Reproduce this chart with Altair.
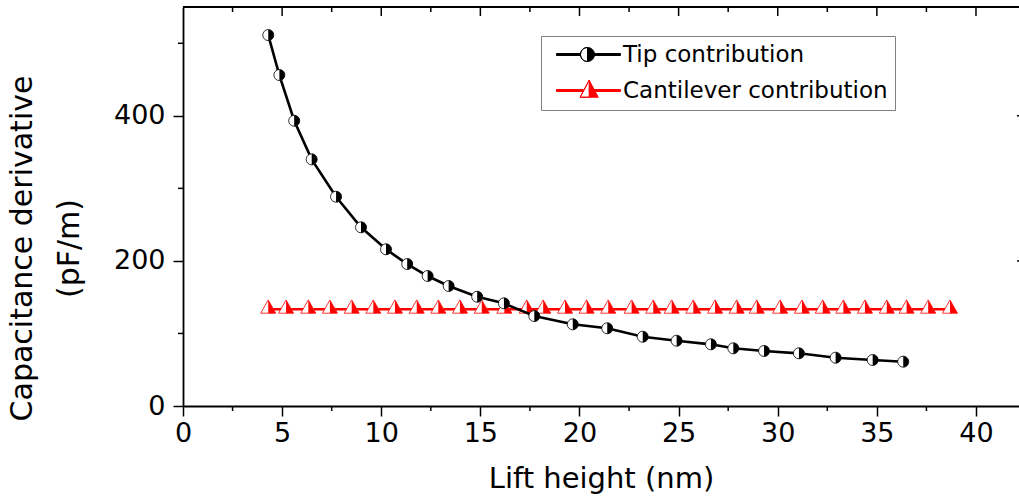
import altair as alt
import pandas as pd

series_names = ["Tip contribution", "Cantilever contribution"]

tip_x = [4.30, 4.86, 5.61, 6.49, 7.72, 8.98, 10.24, 11.31, 12.34, 13.40, 14.84, 16.19,
         17.72, 19.66, 21.40, 23.19, 24.90, 26.63, 27.76, 29.31, 31.07, 32.92, 34.79, 36.33]
tip_y = [511.3, 456.2, 393.2, 340.0, 288.5, 246.3, 216.0, 195.7, 179.2, 165.4, 150.6, 141.5,
         124.0, 112.6, 107.1, 95.5, 90.0, 85.0, 79.5, 75.8, 72.6, 66.6, 63.4, 61.1]

cant_x = [4.30, 5.20, 6.32, 7.41, 8.51, 9.60, 10.69, 11.79, 12.88, 13.97, 15.07, 16.21,
          17.34, 18.17, 19.27, 20.36, 21.45, 22.63, 23.72, 24.65, 25.74, 26.84, 27.93,
          28.94, 30.12, 31.22, 32.27, 33.31, 34.40, 35.50, 36.50, 37.59, 38.69]
cant_y = [133.4, 133.4, 133.4, 133.4, 133.4, 133.4, 133.4, 133.4, 133.4, 133.4, 133.4,
          133.4, 133.4, 133.4, 133.4, 133.4, 133.4, 133.4, 133.4, 133.4, 133.4, 133.4,
          133.4, 133.4, 133.4, 133.4, 133.4, 133.4, 133.4, 133.4, 133.4, 133.4, 133.4]

x_major = [0, 5, 10, 15, 20, 25, 30, 35, 40]
x_minor = [2.5, 7.5, 12.5, 17.5, 22.5, 27.5, 32.5, 37.5]
y_major = [0, 200, 400]
y_minor = [100, 300, 500]
x_domain = [0, 42.17]
y_domain = [0, 550]

FONT = "DejaVu Sans"
W, H = 836, 399

# marker shapes (unit = sqrt(size)/2 px)
CIRCLE_RIGHT = "M0,-1A1,1,0,0,1,0,1Z"
TRI_FULL = "M0,-1.24L1,0.53L-1,0.53Z"
TRI_RIGHT = "M0,-1.24L1,0.53L0,0.53Z"
# legend symbols (unit = 7 px), stub + half-filled marker
TIP_LEG = ("M-0.43,-0.14L3.0,-0.14L3.0,0.14L-0.43,0.14Z "
           "M5.0,-0.14L8.71,-0.14L8.71,0.14L5.0,0.14Z "
           "M4.0,-1A1,1,0,0,0,4.0,1A1,1,0,0,1,4.0,-1 "
           "M4.0,-1A1,1,0,0,1,4.0,1Z")
CANT_LEG = ("M-0.43,-0.14L3.4,-0.14L3.4,0.14L-0.43,0.14Z "
            "M4.24,-0.14L8.71,-0.14L8.71,0.14L4.24,0.14Z "
            "M4.24,-1.47L2.95,0.96L4.24,0.96L2.95,0.96Z "
            "M4.24,-1.47L5.53,0.96L4.24,0.96Z")

tip_df = pd.DataFrame({"x": tip_x, "y": tip_y})
cant_df = pd.DataFrame({"x": cant_x, "y": cant_y})
legend_df = pd.DataFrame({"series": series_names, "x": [tip_x[0], cant_x[0]], "y": [tip_y[0], cant_y[0]]})

xs = alt.Scale(domain=x_domain, nice=False, zero=False)
ys = alt.Scale(domain=y_domain, nice=False, zero=False)

x_axis = alt.Axis(values=x_major, tickSize=10, tickWidth=1.5, domainWidth=1.8, domainColor="black",
                  tickColor="black", labelFontSize=27, labelPadding=4, labelFlush=False,
                  labelOverlap=False, grid=False, format="d", labelColor="black",
                  title="Lift height (nm)", titleFontSize=29, titleFontWeight="normal",
                  titleX=418, titleY=81, titleBaseline="alphabetic", titleAlign="center",
                  titleColor="black")
y_axis = alt.Axis(values=y_major, tickSize=10, tickWidth=1.5, domainWidth=1.8, domainColor="black",
                  tickColor="black", labelFontSize=27, labelPadding=8, labelFlush=False,
                  labelOverlap=False, grid=False, format="d", labelColor="black",
                  title=["Capacitance derivative", "(pF/m)"], titleFontSize=30,
                  titleFontWeight="normal", titleX=-152, titleY=241, titleAngle=-90,
                  titleAlign="center", titleBaseline="alphabetic", titleLineHeight=47,
                  titleColor="black")


def X():
    return alt.X("x:Q", scale=xs, axis=x_axis)


def Y():
    return alt.Y("y:Q", scale=ys, axis=y_axis)


cant_line = alt.Chart(cant_df).mark_line(color="red", strokeWidth=2.5).encode(x=X(), y=Y())
cant_full = alt.Chart(cant_df).mark_point(shape=TRI_FULL, filled=True, fill="white", stroke="red",
                                          strokeWidth=0.8, size=225, opacity=1).encode(x=X(), y=Y())
cant_half = alt.Chart(cant_df).mark_point(shape=TRI_RIGHT, filled=True, color="red", strokeWidth=0,
                                          size=225, opacity=1).encode(x=X(), y=Y())
tip_line = alt.Chart(tip_df).mark_line(color="black", strokeWidth=2.6).encode(x=X(), y=Y())
tip_full = alt.Chart(tip_df).mark_point(shape="circle", filled=True, fill="white", stroke="black",
                                        strokeWidth=0.8, size=121, opacity=1).encode(x=X(), y=Y())
tip_half = alt.Chart(tip_df).mark_point(shape=CIRCLE_RIGHT, filled=True, color="black", strokeWidth=0,
                                        size=121, opacity=1).encode(x=X(), y=Y())

leg = alt.Legend(title=None, orient="none", legendX=358, legendY=29, padding=7, rowPadding=11,
                 labelOffset=52, labelFontSize=23, labelFont=FONT, labelColor="black",
                 strokeColor="#808080", fillColor="white", symbolOpacity=1,
                 symbolStrokeWidth=1, symbolSize=196, labelLimit=400)
legend_layer = alt.Chart(legend_df).mark_point(filled=True, opacity=0, size=196, strokeWidth=1).encode(
    x=X(), y=Y(),
    shape=alt.Shape("series:N", scale=alt.Scale(domain=series_names, range=[TIP_LEG, CANT_LEG]), legend=leg),
    fill=alt.Fill("series:N", scale=alt.Scale(domain=series_names, range=["black", "red"]), legend=leg),
    stroke=alt.Stroke("series:N", scale=alt.Scale(domain=series_names, range=["black", "red"]), legend=leg),
)

one = pd.DataFrame({"a": [0]})
top_border = alt.Chart(one).mark_rule(color="black", strokeWidth=1.8).encode(
    x=alt.value(0), x2=alt.value(W), y=alt.value(0))

xmaj_df = pd.DataFrame({"x": x_major[1:]})
xmin_df = pd.DataFrame({"x": x_minor})
ymaj_df = pd.DataFrame({"y": y_major[1:]})
ymin_df = pd.DataFrame({"y": y_minor})

top_major = alt.Chart(xmaj_df).mark_rule(color="black", strokeWidth=1.5).encode(
    x=X(), y=alt.value(0), y2=alt.value(9))
top_minor = alt.Chart(xmin_df).mark_rule(color="black", strokeWidth=1.5).encode(
    x=X(), y=alt.value(0), y2=alt.value(5))
bot_minor = alt.Chart(xmin_df).mark_rule(color="black", strokeWidth=1.5).encode(
    x=X(), y=alt.value(H), y2=alt.value(H + 5))
left_minor = alt.Chart(ymin_df).mark_rule(color="black", strokeWidth=1.5).encode(
    y=Y(), x=alt.value(0), x2=alt.value(-5))
right_major = alt.Chart(ymaj_df).mark_rule(color="black", strokeWidth=1.5).encode(
    y=Y(), x=alt.value(W - 2), x2=alt.value(W))

chart = alt.layer(
    cant_line, cant_full, cant_half, tip_line, tip_full, tip_half, legend_layer,
    top_border, top_major, top_minor, bot_minor, left_minor, right_major
).properties(
    width=W, height=H,
    autosize=alt.AutoSizeParams(type="none"),
    padding={"left": 183, "top": 7, "right": 0, "bottom": 92},
    background="white",
).configure(font=FONT).configure_view(strokeWidth=0)

chart.save("out.html", embed_options={"renderer": "svg", "actions": False})
